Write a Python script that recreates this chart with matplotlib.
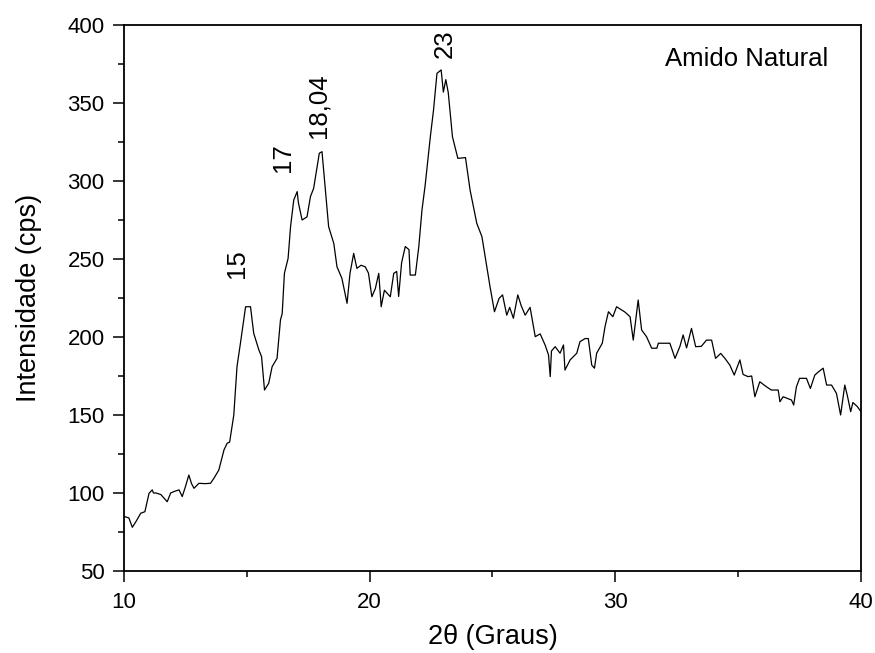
import matplotlib
matplotlib.use("Agg")
import matplotlib.pyplot as plt
from matplotlib.ticker import MultipleLocator

plt.rcParams['font.family'] = ['Liberation Sans', 'DejaVu Sans']

two_theta = [
    10.0, 10.2, 10.34, 10.5, 10.68, 10.85, 11.02, 11.15, 11.2, 11.3, 11.5, 11.76,
    11.9, 12.05, 12.24, 12.37, 12.5, 12.64, 12.75, 12.85, 13.05, 13.3, 13.52,
    13.66, 13.86, 14.07, 14.2, 14.3, 14.47, 14.6, 14.74, 14.95, 15.15, 15.28,
    15.49, 15.6, 15.72, 15.89, 16.03, 16.23, 16.37, 16.44, 16.53, 16.68, 16.78,
    16.91, 17.05, 17.1, 17.25, 17.45, 17.59, 17.72, 17.86, 17.95, 18.06, 18.2,
    18.33, 18.54, 18.67, 18.87, 19.08, 19.2, 19.35, 19.48, 19.65, 19.82, 19.95,
    20.09, 20.23, 20.37, 20.47, 20.6, 20.84, 20.98, 21.1, 21.18, 21.3, 21.45,
    21.6, 21.65, 21.86, 22.0, 22.13, 22.26, 22.47, 22.6, 22.74, 22.91, 23.0,
    23.1, 23.2, 23.37, 23.59, 23.9, 24.09, 24.36, 24.57, 24.77, 24.9, 25.08,
    25.27, 25.41, 25.58, 25.7, 25.85, 26.03, 26.17, 26.33, 26.53, 26.74, 26.94,
    27.14, 27.28, 27.35, 27.4, 27.55, 27.75, 27.89, 27.95, 28.16, 28.43, 28.56,
    28.77, 28.9, 29.04, 29.15, 29.24, 29.47, 29.58, 29.72, 29.9, 30.05, 30.39,
    30.6, 30.73, 30.93, 31.07, 31.27, 31.48, 31.69, 31.75, 32.22, 32.43, 32.63,
    32.76, 32.9, 33.1, 33.27, 33.5, 33.71, 33.92, 34.08, 34.29, 34.46, 34.66,
    34.84, 35.07, 35.2, 35.4, 35.55, 35.68, 35.88, 36.15, 36.35, 36.63, 36.7,
    36.83, 37.17, 37.26, 37.37, 37.5, 37.78, 37.94, 38.12, 38.28, 38.46, 38.6,
    38.8, 39.0, 39.17, 39.34, 39.45, 39.58, 39.67, 39.85, 40.0,
]
intensidade = [
    85, 84, 78, 82, 87, 88, 99.8, 102, 100, 100, 99, 94.4,
    100, 101, 102, 97.7, 104, 111.5, 106, 103, 106.2, 106, 106.2,
    109.4, 114.7, 127.6, 131.9, 132.6, 150, 181, 196, 219.4, 219.4, 202.4,
    191.7, 187.4, 166, 170.3, 181, 186.3, 211, 215, 240.8, 250.4, 270.7,
    287.8, 293.2, 286, 275, 277, 290, 295.3, 309.2, 317.8, 318.8, 294.2,
    270.7, 260, 245, 237.6, 221.6, 240.8, 253.6, 244, 246, 245, 241,
    225.8, 231, 240.8, 219.4, 230, 225.8, 240.8, 242, 226, 247.6, 258,
    256, 239.7, 239.7, 257.9, 281.4, 297.4, 328.4, 345.5, 369, 371.2, 357,
    365, 356.6, 328.4, 314.5, 315, 294, 272.9, 264.3, 245, 232.2, 216.2,
    224.8, 227, 214, 219, 212, 227, 220, 214, 219, 200.2, 202,
    194.9, 188.5, 174.6, 191, 193.8, 189.6, 194.9, 178.8, 185.3, 189.6, 197,
    199, 199, 182, 180, 189.6, 196, 206.6, 216.2, 213, 219.4, 216,
    213, 198, 223.7, 204.5, 200.2, 192.8, 192.8, 196, 196, 186.3, 194,
    201.3, 193, 205.5, 193.8, 194, 198, 198, 186.3, 189.5, 186.3, 182,
    175.6, 185.3, 176, 174.6, 175, 161.7, 171.3, 168.1, 166, 166, 158.5,
    161.7, 159.6, 156.4, 168, 173.5, 173.5, 167, 175.6, 177.8, 180, 169.2,
    169.2, 163.9, 150, 169.2, 162, 152.1, 158, 155.4, 152.1,
]

# picos anotados: texto, posicao (x, y)
pico_textos = ['15', '17', '18,04', '23']
pico_x = [14.6, 16.47, 17.9, 23.06]
pico_y = [247, 315, 348, 388]

fig = plt.figure(figsize=(8.75, 6.53), dpi=100)
ax = fig.add_axes([0.1417, 0.1256, 0.8423, 0.8361])

ax.plot(two_theta, intensidade, color='black', linewidth=0.9)

for txt, xx, yy in zip(pico_textos, pico_x, pico_y):
    ax.text(xx, yy, txt, rotation=90, ha='center', va='center', fontsize=18.5)

ax.text(0.955, 0.938, 'Amido Natural', transform=ax.transAxes,
        ha='right', va='center', fontsize=18.5)

ax.set_xlim(10, 40)
ax.set_ylim(50, 400)
ax.xaxis.set_major_locator(MultipleLocator(10))
ax.xaxis.set_minor_locator(MultipleLocator(5))
ax.yaxis.set_major_locator(MultipleLocator(50))
ax.yaxis.set_minor_locator(MultipleLocator(25))
ax.tick_params(which='major', direction='out', length=8, width=1.1, labelsize=16)
ax.tick_params(axis='x', which='major', pad=7)
ax.tick_params(axis='y', which='major', pad=6)
ax.tick_params(which='minor', direction='out', length=4, width=1.1)
for s in ax.spines.values():
    s.set_linewidth(1.3)

ax.set_xlabel('2\u03b8 (Graus)', fontsize=19.5, labelpad=8)
ax.set_ylabel('Intensidade (cps)', fontsize=19.5, labelpad=18)

fig.savefig('out.png', dpi=100)
